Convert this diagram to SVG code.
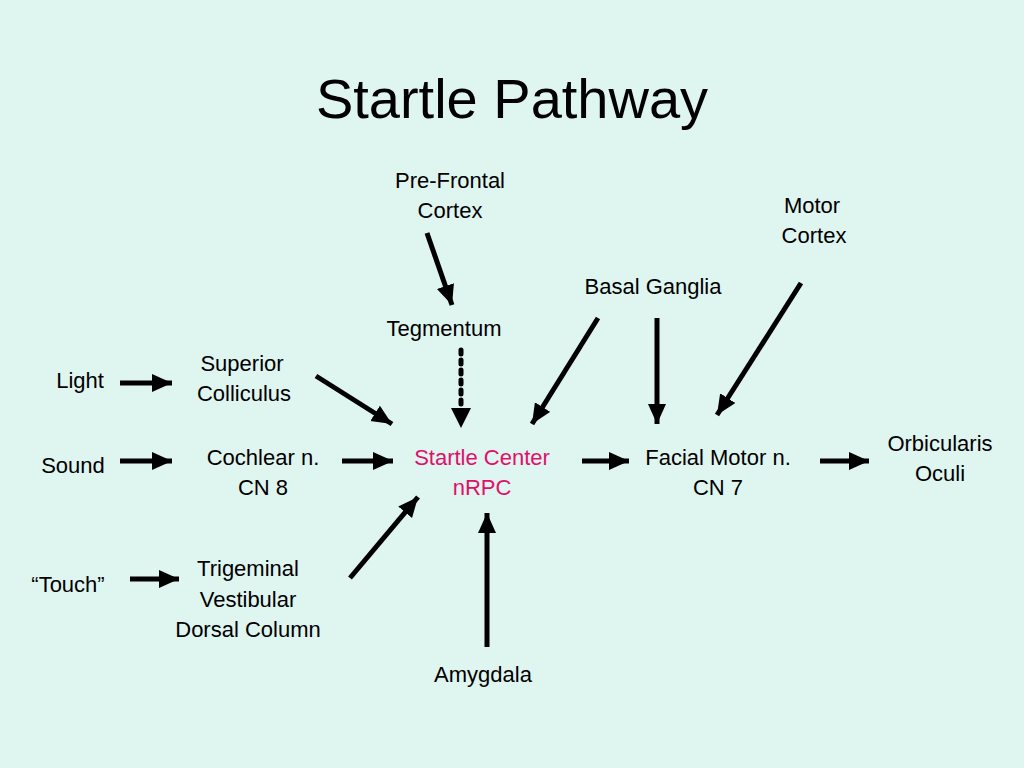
<svg xmlns="http://www.w3.org/2000/svg" width="1024" height="768" viewBox="0 0 1024 768">
<style>
text{font-family:"Liberation Sans",Arial,sans-serif;font-size:22px;fill:#000;text-anchor:middle}
.t{font-size:56px}
.r{fill:#e0106a}
.a{stroke:#000;stroke-width:5;fill:none;marker-end:url(#h)}
.d{stroke-dasharray:4 6;stroke-linecap:round}
</style>
<defs><marker id="h" markerUnits="userSpaceOnUse" markerWidth="22" markerHeight="20" refX="20" refY="9" orient="auto"><path d="M0,0 L20,9 L0,18 Z" fill="#000"/></marker></defs>
<rect width="1024" height="768" fill="#dff5f0"/>
<text class="t" x="512" y="118">Startle Pathway</text>
<g id="pfc"><text x="450" y="188">Pre-Frontal</text><text x="450" y="218">Cortex</text></g>
<g id="motor"><text x="812" y="213">Motor</text><text x="814" y="243">Cortex</text></g>
<g id="basal"><text x="653" y="294">Basal Ganglia</text></g>
<g id="teg"><text x="444" y="336">Tegmentum</text></g>
<g id="sc"><text x="242" y="371">Superior</text><text x="244" y="401">Colliculus</text></g>
<g id="light"><text x="80" y="388">Light</text></g>
<g id="sound"><text x="73" y="473">Sound</text></g>
<g id="coch"><text x="263" y="465">Cochlear n.</text><text x="263" y="495">CN 8</text></g>
<g id="startle"><text class="r" x="482" y="465">Startle Center</text><text class="r" x="482" y="495">nRPC</text></g>
<g id="facial"><text x="718" y="465">Facial Motor n.</text><text x="718" y="495">CN 7</text></g>
<g id="orb"><text x="940" y="451">Orbicularis</text><text x="940" y="481">Oculi</text></g>
<g id="touch"><text x="68" y="592">“Touch”</text></g>
<g id="trig"><text x="248" y="576">Trigeminal</text><text x="248" y="607">Vestibular</text><text x="248" y="637">Dorsal Column</text></g>
<g id="amyg"><text x="483" y="682">Amygdala</text></g>
<g id="connectors">
<line class="a" x1="427" y1="233" x2="452" y2="305"/>
<line class="a d" x1="461" y1="350" x2="461" y2="408" marker-end="none" style="marker-end:none"/>
<path d="M451,408 L471,408 L461,428 Z" fill="#000"/>
<line class="a" x1="598" y1="318" x2="532" y2="424"/>
<line class="a" x1="657" y1="318" x2="657" y2="424"/>
<line class="a" x1="801" y1="283" x2="717" y2="415"/>
<line class="a" x1="120" y1="383" x2="172" y2="383"/>
<line class="a" x1="316" y1="376" x2="392" y2="424"/>
<line class="a" x1="120" y1="461" x2="172" y2="461"/>
<line class="a" x1="342" y1="461" x2="393" y2="461"/>
<line class="a" x1="582" y1="461" x2="629" y2="461"/>
<line class="a" x1="820" y1="461" x2="869" y2="461"/>
<line class="a" x1="130" y1="579" x2="179" y2="579"/>
<line class="a" x1="350" y1="578" x2="418" y2="497"/>
<line class="a" x1="487" y1="647" x2="487" y2="513"/>
</g>
</svg>
